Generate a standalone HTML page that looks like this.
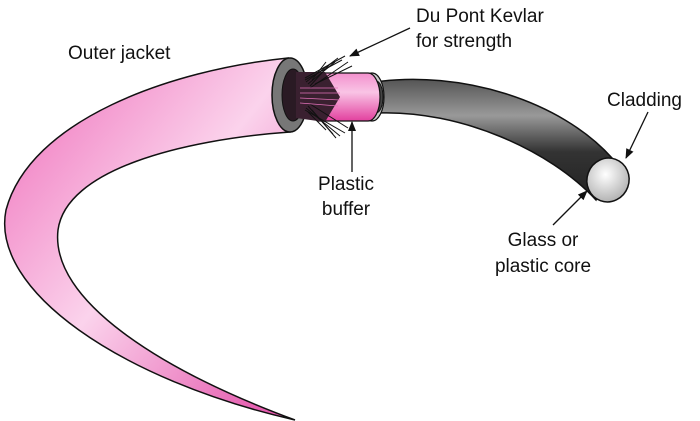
<!DOCTYPE html>
<html><head><style>
html,body{margin:0;padding:0;background:#fff;}
svg{display:block;}
text{font-family:"Liberation Sans",sans-serif;font-size:19px;fill:#111;}
</style></head><body>
<svg width="700" height="421" viewBox="0 0 700 421" xmlns="http://www.w3.org/2000/svg">
<defs>
<linearGradient id="pk" x1="0" y1="0" x2="1" y2="1">
<stop offset="0" stop-color="#ee6ab8"/><stop offset="0.5" stop-color="#fbd3ec"/><stop offset="1" stop-color="#e24aa6"/>
</linearGradient>
<linearGradient id="pb" x1="0" y1="0" x2="0" y2="1">
<stop offset="0" stop-color="#f390cd"/><stop offset="0.4" stop-color="#f9c4e5"/><stop offset="1" stop-color="#e2409e"/>
</linearGradient>
<linearGradient id="bk" x1="0" y1="0" x2="0" y2="1">
<stop offset="0" stop-color="#555"/><stop offset="0.3" stop-color="#999"/><stop offset="0.6" stop-color="#333"/><stop offset="1" stop-color="#222"/>
</linearGradient>
<radialGradient id="face" cx="0.4" cy="0.4" r="0.7"><stop offset="0" stop-color="#fff"/><stop offset="1" stop-color="#aaa"/></radialGradient>
<marker id="ah" markerWidth="10" markerHeight="8" refX="9" refY="4" orient="auto" markerUnits="userSpaceOnUse"><path d="M0,0 L10,4 L0,8 Z" fill="#111"/></marker>
</defs>
<path d="M288,58 C170,70 30,120 6,210 C-10,290 120,380 295,420 C160,370 50,300 58,230 C66,170 180,140 290,132 Z" fill="url(#pk)" stroke="#111" stroke-width="1.5"/>
<path d="M375,82 C460,70 560,100 612,158 L596,200 C550,150 460,110 378,113 Z" fill="url(#bk)" stroke="#111" stroke-width="1.5"/>
<ellipse cx="608" cy="180" rx="21" ry="22" fill="url(#face)" stroke="#111" stroke-width="1.5" transform="rotate(20 608 180)"/>
<ellipse cx="372" cy="97" rx="12" ry="24" fill="#ccc" stroke="#111" stroke-width="1.2"/>
<ellipse cx="376" cy="97" rx="7" ry="16" fill="#444" stroke="#111"/>
<path d="M318,73 L368,73 A12,24 0 0 1 368,121 L318,121 Z" fill="url(#pb)" stroke="#111" stroke-width="1.2"/>
<ellipse cx="290" cy="95" rx="18" ry="37" fill="#777" stroke="#111" stroke-width="1.5"/>
<ellipse cx="293" cy="95" rx="11" ry="26" fill="#2a1a24" stroke="#111"/>
<path d="M296,72 L325,72 L340,97 L325,122 L296,118 Z" fill="#3a2030"/>
<g stroke="#111" stroke-width="1">
<line x1="305" y1="78" x2="345" y2="56"/><line x1="305" y1="80" x2="342" y2="60"/><line x1="306" y1="82" x2="338" y2="58"/>
<line x1="308" y1="84" x2="335" y2="62"/><line x1="310" y1="86" x2="330" y2="64"/><line x1="310" y1="88" x2="348" y2="62"/>
<line x1="312" y1="80" x2="326" y2="62"/><line x1="315" y1="84" x2="352" y2="66"/>
<line x1="305" y1="110" x2="345" y2="133"/><line x1="306" y1="108" x2="340" y2="136"/><line x1="308" y1="106" x2="333" y2="134"/>
<line x1="308" y1="112" x2="326" y2="130"/><line x1="310" y1="104" x2="348" y2="128"/><line x1="312" y1="110" x2="336" y2="138"/>
</g>
<g stroke="#e070b8" stroke-width="0.8">
<line x1="300" y1="88" x2="338" y2="88"/><line x1="300" y1="93" x2="340" y2="93"/><line x1="300" y1="98" x2="340" y2="100"/><line x1="300" y1="103" x2="338" y2="106"/>
</g>
<g stroke="#111" stroke-width="1.3" fill="none">
<line x1="410" y1="28" x2="350" y2="56" marker-end="url(#ah)"/>
<line x1="352" y1="172" x2="352" y2="122" marker-end="url(#ah)"/>
<line x1="648" y1="112" x2="626" y2="158" marker-end="url(#ah)"/>
<line x1="553" y1="225" x2="587" y2="191" marker-end="url(#ah)"/>
</g>
<text x="68" y="59">Outer jacket</text>
<text x="416" y="22">Du Pont Kevlar</text>
<text x="416" y="47">for strength</text>
<text x="346" y="190" text-anchor="middle">Plastic</text>
<text x="346" y="215" text-anchor="middle">buffer</text>
<text x="607" y="106">Cladding</text>
<text x="543" y="246" text-anchor="middle">Glass or</text>
<text x="543" y="272" text-anchor="middle">plastic core</text>
</svg>
</body></html>
